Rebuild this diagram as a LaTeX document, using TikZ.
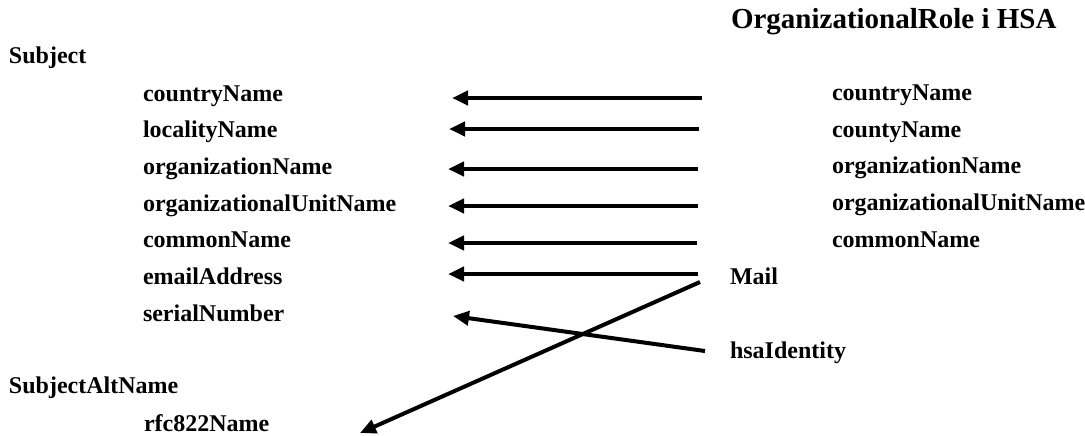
\documentclass[tikz,border=0pt]{standalone}
\usepackage{fontspec}
\setmainfont{Liberation Serif}
\usepackage{tikz}
\usetikzlibrary{positioning, calc}
\usetikzlibrary{arrows.meta}

\begin{document}
\begin{tikzpicture}[x=0.5pt, y=-0.5pt, >={Triangle[length=8pt, width=7pt]}, line width=2pt,
    attr/.style={anchor=base west, inner sep=0pt, font=\fontsize{12}{14}\selectfont\bfseries},
    head/.style={anchor=base west, inner sep=0pt, font=\fontsize{14.5}{17}\selectfont\bfseries}]
        \useasboundingbox (0,0) rectangle (1085,435);

        % Headings
        \node[head] (hsa) at (729,28) {OrganizationalRole i HSA};
        \node[attr] (subject) at (7,63) {Subject};
        \node[attr] (altname) at (7,393) {SubjectAltName};

        % Subject attributes
        \node[attr] (country) at (141,101) {countryName};
        \node[attr] (locality) at (141,137) {localityName};
        \node[attr] (org) at (141,174) {organizationName};
        \node[attr] (orgunit) at (141,211) {organizationalUnitName};
        \node[attr] (common) at (141,247) {commonName};
        \node[attr] (email) at (141,284) {emailAddress};
        \node[attr] (serial) at (141,321) {serialNumber};
        \node[attr] (rfc) at (142,431) {rfc822Name};

        % HSA attributes
        \node[attr] (hcountry) at (830,100) {countryName};
        \node[attr] (hcounty) at (830,137) {countyName};
        \node[attr] (horg) at (830,173) {organizationName};
        \node[attr] (horgunit) at (830,210) {organizationalUnitName};
        \node[attr] (hcommon) at (830,247) {commonName};
        \node[attr] (mail) at (728,284) {Mail};
        \node[attr] (hsaid) at (728,358) {hsaIdentity};

        % Arrow ends
        \foreach \n/\xs/\xt/\y in {1/702/452/98, 2/699/449/129, 3/698/448/169,
                                  4/698/448/206, 5/697/448/243, 6/698/448/274} {
            \coordinate (from\n) at (\xs,\y);
            \coordinate (to\n) at (\xt,\y);
        }
        \coordinate (from7) at (705,351);
        \coordinate (to7) at (453,316);
        \coordinate (from8) at (700,282);
        \coordinate (to8) at (360,433);

        % Edges
        \foreach \n in {1,...,8} {
            \draw[->] (from\n) -- (to\n);
        }
\end{tikzpicture}
\end{document}
